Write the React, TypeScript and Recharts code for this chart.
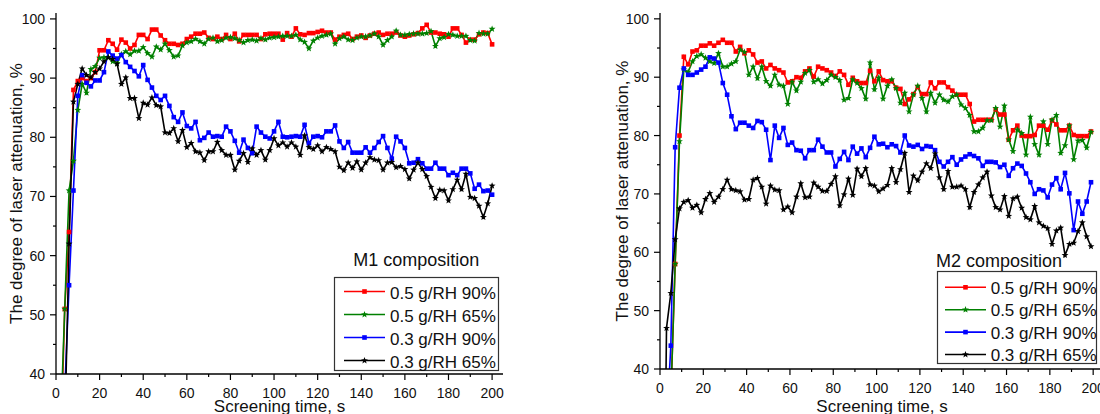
import React from "react"
import { LineChart, Line, XAxis, YAxis, Legend } from "recharts"

const FONT = "'Liberation Sans', Arial, sans-serif"

// M1 panel: readings every 2 s
const timeM1 = [
  2, 4, 6, 8, 10, 12, 14, 16, 18, 20,
  22, 24, 26, 28, 30, 32, 34, 36, 38, 40,
  42, 44, 46, 48, 50, 52, 54, 56, 58, 60,
  62, 64, 66, 68, 70, 72, 74, 76, 78, 80,
  82, 84, 86, 88, 90, 92, 94, 96, 98, 100,
  102, 104, 106, 108, 110, 112, 114, 116, 118, 120,
  122, 124, 126, 128, 130, 132, 134, 136, 138, 140,
  142, 144, 146, 148, 150, 152, 154, 156, 158, 160,
  162, 164, 166, 168, 170, 172, 174, 176, 178, 180,
  182, 184, 186, 188, 190, 192, 194, 196, 198, 200,
]

const m1Red = [
  25, 51, 64, 88, 89.5, 90, 89.5, 90, 91, 94.7,
  94.7, 96.4, 95.8, 94.8, 96.5, 96, 95, 95.6, 97.3, 97.3,
  96.6, 98.2, 98.2, 97.2, 96.4, 95.8, 95.8, 95.6, 95.8, 96.6,
  97, 97.5, 97.5, 97.7, 96.8, 96.6, 97, 96.6, 97.3, 96.6,
  97.5, 96.2, 97.3, 97.3, 97.3, 97.3, 96.6, 97.4, 97.5, 97.5,
  97.5, 96.5, 97.6, 97, 98.4, 97.4, 97.3, 97.6, 97.6, 97.8,
  98, 97.7, 97.7, 96.5, 97, 97.3, 97.5, 96.6, 97, 97.2,
  96.8, 97.2, 97.5, 97.7, 97.3, 97.5, 97.5, 97.7, 97.2, 97,
  97.2, 97.4, 97.6, 98.4, 99, 97.7, 97.7, 97.5, 97.4, 97,
  98.4, 98.4, 97.3, 96, 96.5, 96.5, 97.4, 97.7, 97.6, 95.7,
]

const m1Green = [
  30, 51, 71, 76, 84.6, 89, 87.5, 91.5, 92, 93.4,
  93.5, 93.5, 92.8, 92.5, 94, 94.5, 94, 94.6, 94.6, 95.2,
  94.2, 93.6, 95.3, 94.8, 95.8, 94.7, 93.6, 93.8, 95.5, 96,
  96.2, 96.6, 96.2, 95.8, 96.6, 96.8, 96.2, 96.4, 96.8, 96.9,
  96.7, 96.4, 96, 96.4, 96.5, 96.3, 96.7, 96.5, 96.8, 96.9,
  97, 97.1, 97.1, 97.1, 97.3, 96.5, 96.1, 95, 96.3, 96.8,
  97.1, 97.3, 97.5, 95.8, 96.7, 97, 96.5, 96.4, 96.8, 97,
  97, 97.2, 97.5, 97, 95.6, 96.4, 97, 98, 97.3, 97.3,
  97.4, 97.5, 97.5, 97.5, 97.6, 97.9, 95.4, 96.7, 96.9, 97.4,
  97.3, 97.1, 97.1, 97.1, 96.4, 96.3, 97.6, 97.5, 97.5, 98.3,
]

const m1Blue = [
  15, 37, 55, 71, 87, 90.5, 89.2, 88.6, 89.6, 89.6,
  91, 94.5, 93.8, 93.3, 93.9, 92.7, 91.9, 91.2, 90.3, 92.2,
  89.7, 88.4, 87, 86.3, 87, 85.3, 83.4, 82.6, 84.2, 81.9,
  81.5, 82.6, 79.5, 79.9, 80.8, 80.1, 80.2, 80.1, 81.8, 81,
  79.4, 77.4, 79.6, 78.2, 77.3, 81.8, 80.8, 80.1, 79.8, 81,
  82.6, 80.1, 80, 80.1, 80.2, 80.1, 82.1, 79, 80.1, 80.2,
  80, 81, 81, 82, 79.3, 78.2, 79.2, 77.4, 77.4, 77.4,
  78.3, 77.4, 78.2, 79.2, 80.2, 78.2, 76.4, 80.1, 79.3, 78.2,
  75.6, 75.7, 76.3, 75.6, 74.7, 74.7, 75.7, 74.7, 74.7, 73.6,
  74, 73.6, 74.7, 74.7, 73.9, 71.3, 72, 70.9, 71, 70.3,
]

const m1Black = [
  10, 30, 62, 86, 89, 91.6, 90.5, 90.1, 91, 91.6,
  92.8, 93.5, 93.2, 92.4, 89, 90.1, 86.6, 86.6, 83.2, 85.8,
  85.5, 86.7, 85.4, 85.2, 80.8, 80.7, 81.5, 79.3, 81.2, 78.3,
  79, 77.6, 77.4, 76.1, 77.6, 77.6, 79.2, 77.8, 77, 77,
  74.5, 76, 77.3, 75.8, 78.1, 77, 77.8, 76.2, 77.8, 79.8,
  78.6, 79.1, 78.4, 79.1, 78.4, 77, 80.3, 78.3, 78, 78.6,
  77.6, 78.3, 78, 77.6, 75, 74.4, 75.7, 74.8, 75.9, 74.5,
  75.7, 76.6, 76.2, 76.1, 74.5, 75.7, 75.8, 74.9, 75.1, 74.6,
  73, 74.5, 75.7, 74.6, 73.4, 71.6, 69.7, 71.1, 71, 69.3,
  71.2, 72.8, 71.2, 73.8, 69.9, 69.7, 68.4, 66.5, 68.8, 71.8,
]

// M2 panel: readings every 2 s, odd seconds
const timeM2 = [
  1, 3, 5, 7, 9, 11, 13, 15, 17, 19,
  21, 23, 25, 27, 29, 31, 33, 35, 37, 39,
  41, 43, 45, 47, 49, 51, 53, 55, 57, 59,
  61, 63, 65, 67, 69, 71, 73, 75, 77, 79,
  81, 83, 85, 87, 89, 91, 93, 95, 97, 99,
  101, 103, 105, 107, 109, 111, 113, 115, 117, 119,
  121, 123, 125, 127, 129, 131, 133, 135, 137, 139,
  141, 143, 145, 147, 149, 151, 153, 155, 157, 159,
  161, 163, 165, 167, 169, 171, 173, 175, 177, 179,
  181, 183, 185, 187, 189, 191, 193, 195, 197, 199,
]

const m2Red = [
  5, 20, 35, 58, 80, 93.5, 92.2, 94.4, 94.6, 95.4,
  95.4, 95.8, 95.4, 95.9, 96.4, 95.9, 95.9, 94.4, 95.2, 94.1,
  94.6, 93.9, 92.5, 92.7, 91.5, 92.1, 91.5, 91.2, 90.8, 89.1,
  89.3, 90, 89.9, 91, 91.5, 90.1, 91.8, 91.5, 91.2, 90.8,
  90.2, 91, 90.4, 88.7, 89.9, 89.3, 89, 89, 91.1, 89.3,
  91, 89.5, 89.3, 89.3, 88.2, 88, 85.4, 86.2, 87.1, 88.3,
  87.1, 87.1, 89.1, 88.1, 89.1, 89.1, 88.3, 87.7, 87, 87,
  87, 85.4, 82.4, 82.7, 82.7, 82.7, 82.7, 84.5, 83.6, 83.6,
  79.3, 80.9, 81.7, 80, 79.9, 79.9, 80.1, 81.7, 81.7, 81,
  82.6, 81.9, 80.9, 80.9, 81.7, 80.1, 79.9, 79.9, 79.9, 80.7,
]

const m2Green = [
  -10, 10, 35, 58, 79, 91.3, 90.9, 92.7, 93.6, 93.9,
  93.3, 92.7, 92.4, 94.1, 91.8, 91.8, 92.3, 92.7, 94.7, 94.3,
  90.4, 91.8, 89.8, 91.8, 89.3, 88.5, 90.4, 88.7, 88.5, 85.4,
  89.2, 87.7, 89.2, 90.7, 91.2, 89.2, 89.6, 88.9, 89.5, 90.4,
  90, 89.5, 86.1, 86.4, 89.6, 89, 88.1, 86.3, 92.5, 87.9,
  89.9, 86.3, 88.5, 89.6, 88.1, 85.6, 87.3, 84.1, 87, 88.5,
  86.4, 84.1, 87.3, 85.6, 87, 86.1, 85.8, 86.7, 87, 85.3,
  84.7, 83.5, 80.7, 80.7, 81.3, 82.6, 82.6, 84.7, 81.5, 85.1,
  79.3, 77.3, 81, 80.4, 76.7, 83.2, 78.5, 76.7, 82.4, 78.5,
  82.7, 83.5, 77, 78.3, 81.7, 75.9, 79.1, 79.2, 77.9, 80.6,
]

const m2Blue = [
  10, 30, 44, 78, 88.2, 91.5, 90.4, 90.4, 90.8, 91.3,
  91.8, 93.4, 93.2, 92.5, 89, 87, 83.3, 81.1, 82.2, 82.2,
  81.7, 81.3, 82.5, 82.3, 81, 75.8, 81.7, 79.6, 81.3, 78.4,
  78.8, 77.5, 77.4, 76.1, 77.5, 77.5, 79.3, 78.1, 77.1, 77.1,
  74.7, 76, 77.2, 75.8, 78.1, 76.9, 77.8, 76.3, 77.9, 79.8,
  78.5, 78.6, 78, 78.5, 78.2, 77.1, 80, 78.3, 78.1, 78.4,
  77.7, 78.2, 78.1, 77.5, 75.5, 74.7, 75.5, 76.3, 75, 75.9,
  76.4, 76.8, 76.5, 76.1, 74.8, 75.5, 75.5, 75.4, 74.6, 75,
  73.1, 74.4, 75.2, 74.8, 73.5, 72, 70, 70.8, 70.6, 69.4,
  71.6, 72.7, 70.8, 73.6, 70.1, 63.8, 68.7, 66.6, 68.7, 72,
]

const m2Black = [
  -20, 47, 53, 62.2, 67.5, 68.6, 68.9, 67.6, 68.1, 66.8,
  69.1, 70.1, 68.6, 69.5, 70.8, 72.4, 70.8, 70.6, 70.4, 69,
  69.1, 72.4, 72.7, 71.2, 68.3, 71.4, 70.7, 70.6, 67.3, 67.8,
  66.8, 69.5, 71.8, 69.4, 69.5, 71.9, 71.2, 70.5, 70.5, 71.7,
  73, 68, 69.9, 72.6, 69.8, 74.3, 73, 74.4, 71.6, 71.4,
  70.4, 70.9, 71.5, 74.4, 72, 74.2, 77, 70.3, 73.1, 72.3,
  73.8, 75.2, 74.4, 76.9, 72.8, 70.8, 73.9, 71.2, 71.2, 71.4,
  70.8, 67.7, 70.3, 71.6, 72.8, 73.8, 69.7, 67.7, 67.3, 69.6,
  66.2, 69.2, 69.5, 67.6, 66, 65.6, 67.9, 65.1, 64.5, 64.1,
  61.4, 63.7, 64.2, 59.5, 61.4, 61.6, 63.6, 65.1, 62.7, 61,
]

const seriesNames = ["0.5 g/RH 90%", "0.5 g/RH 65%", "0.3 g/RH 90%", "0.3 g/RH 65%"]
const seriesColors = ["#ff0000", "#008000", "#0000ff", "#000000"]
const seriesMarkers = ["square", "star", "square", "star"]

const xTicks = [0, 10, 20, 30, 40, 50, 60, 70, 80, 90, 100, 110, 120, 130, 140, 150, 160, 170, 180, 190, 200]
const yTicks = [40, 45, 50, 55, 60, 65, 70, 75, 80, 85, 90, 95, 100]

const m1Rows = timeM1.map((t, i) => ({ t, a: m1Red[i], b: m1Green[i], c: m1Blue[i], d: m1Black[i] }))
const m2Rows = timeM2.map((t, i) => ({ t, a: m2Red[i], b: m2Green[i], c: m2Blue[i], d: m2Black[i] }))

function starPoints(cx: number, cy: number, r: number) {
  const pts: string[] = []
  for (let i = 0; i < 10; i++) {
    const rr = i % 2 === 0 ? r : r * 0.42
    const a = -Math.PI / 2 + (i * Math.PI) / 5
    pts.push(`${(cx + rr * Math.cos(a)).toFixed(2)},${(cy + rr * Math.sin(a)).toFixed(2)}`)
  }
  return pts.join(" ")
}

function Marker({ cx, cy, color, kind }: { cx: number; cy: number; color: string; kind: string }) {
  if (kind === "square") {
    return <rect x={cx - 2.3} y={cy - 2.3} width={4.6} height={4.6} fill={color} />
  }
  return <polygon points={starPoints(cx, cy, 3.6)} fill={color} />
}

const makeDot = (color: string, kind: string) => (p: any) => {
  const { cx, cy, index } = p
  if (cx == null || cy == null || isNaN(cy)) return <g key={index} />
  return (
    <g key={index}>
      <Marker cx={cx} cy={cy} color={color} kind={kind} />
    </g>
  )
}

const XTick = (p: any) => {
  const { x, y, payload } = p
  const v = payload.value
  const major = v % 20 === 0
  const ay = y - 8
  return (
    <g>
      <line x1={x} y1={ay} x2={x} y2={ay + (major ? 6 : 3)} stroke="#000" strokeWidth={1.2} />
      {major && (
        <text x={x} y={ay + 24} textAnchor="middle" fontSize={14} fill="#111" fontFamily={FONT}>
          {v}
        </text>
      )}
    </g>
  )
}

const YTick = (p: any) => {
  const { x, y, payload } = p
  const v = payload.value
  const major = v % 10 === 0
  const ax = x + 8
  return (
    <g>
      <line x1={ax} y1={y} x2={ax - (major ? 6 : 3)} y2={y} stroke="#000" strokeWidth={1.2} />
      {major && (
        <text x={ax - 11} y={y + 5} textAnchor="end" fontSize={14} fill="#111" fontFamily={FONT}>
          {v}
        </text>
      )}
    </g>
  )
}

type LegendCfg = {
  left: number; top: number; w: number; h: number
  title: string; titleX: number; titleY: number
  lineX1: number; lineX2: number; textX: number
  rowY0: number; rowStep: number; textDy: number
}

const makeLegend = (cfg: LegendCfg) => (props: any) => {
  const payload = [...(props.payload ?? [])].sort(
    (p: any, q: any) => seriesNames.indexOf(p.value) - seriesNames.indexOf(q.value)
  )
  const mid = (cfg.lineX1 + cfg.lineX2) / 2
  return (
    <svg width={cfg.w} height={cfg.h} style={{ overflow: "visible", display: "block" }}>
      <text x={cfg.titleX} y={cfg.titleY} fontSize={18} fill="#111" fontFamily={FONT}>
        {cfg.title}
      </text>
      <rect x={0.5} y={0.5} width={cfg.w - 1} height={cfg.h - 1} fill="#fff" stroke="#333" strokeWidth={1.2} />
      {payload.map((e: any, i: number) => {
        const y = cfg.rowY0 + i * cfg.rowStep
        return (
          <g key={i}>
            <line x1={cfg.lineX1} y1={y} x2={cfg.lineX2} y2={y} stroke={e.color} strokeWidth={1.6} />
            <Marker cx={mid} cy={y} color={e.color} kind={e.type === "square" ? "square" : "star"} />
            <text x={cfg.textX} y={y + cfg.textDy} fontSize={17} fill="#111" fontFamily={FONT}>
              {e.value}
            </text>
          </g>
        )
      })}
    </svg>
  )
}

type PanelProps = {
  rows: any[]
  left: number
  width: number
  marginRight: number
  yAxisWidth: number
  xAxisHeight: number
  yLabelOffset: number
  legend: LegendCfg
}

function Panel({ rows, left, width, marginRight, yAxisWidth, xAxisHeight, yLabelOffset, legend }: PanelProps) {
  const keys = ["a", "b", "c", "d"]
  return (
    <div style={{ position: "absolute", left, top: 0 }}>
      <LineChart
        width={width}
        height={414}
        data={rows}
        margin={{ top: 13, right: marginRight, bottom: 0, left: 0 }}
        style={{ fontFamily: FONT }}
      >
        <XAxis
          dataKey="t"
          type="number"
          domain={[0, 205]}
          ticks={xTicks}
          interval={0}
          allowDataOverflow
          height={xAxisHeight}
          tickSize={6}
          tickMargin={2}
          tickLine={false}
          tick={<XTick />}
          axisLine={{ stroke: "#000", strokeWidth: 1.3 }}
          label={{ value: "Screening time, s", position: "insideBottom", offset: 2, fontSize: 17, fill: "#111", fontFamily: FONT }}
        />
        <XAxis
          xAxisId="top"
          orientation="top"
          dataKey="t"
          type="number"
          domain={[0, 205]}
          height={0}
          tick={false}
          tickLine={false}
          axisLine={{ stroke: "#000", strokeWidth: 1.3 }}
        />
        <YAxis
          type="number"
          domain={[40, 101]}
          ticks={yTicks}
          interval={0}
          allowDataOverflow
          width={yAxisWidth}
          tickSize={6}
          tickMargin={2}
          tickLine={false}
          tick={<YTick />}
          axisLine={{ stroke: "#000", strokeWidth: 1.3 }}
          label={{
            value: "The degree of laser attenuation, %",
            angle: -90,
            position: "insideLeft",
            offset: yLabelOffset,
            fontSize: 17,
            fill: "#111",
            fontFamily: FONT,
            style: { textAnchor: "middle" },
          }}
        />
        <YAxis
          yAxisId="right"
          orientation="right"
          type="number"
          domain={[40, 101]}
          width={0}
          tick={false}
          tickLine={false}
          axisLine={{ stroke: "#000", strokeWidth: 1.3 }}
        />
        <Legend
          layout="vertical"
          align="center"
          verticalAlign="middle"
          wrapperStyle={{ left: legend.left, top: legend.top, width: legend.w, height: legend.h }}
          content={makeLegend(legend)}
        />
        {keys.map((k, i) => (
          <Line
            key={k}
            dataKey={k}
            name={seriesNames[i]}
            type="linear"
            stroke={seriesColors[i]}
            strokeWidth={1.6}
            dot={makeDot(seriesColors[i], seriesMarkers[i])}
            activeDot={false}
            legendType={seriesMarkers[i] as any}
            isAnimationActive={false}
            connectNulls
          />
        ))}
      </LineChart>
    </div>
  )
}

export default function App() {
  return (
    <div
      style={{
        position: "absolute",
        left: 0,
        top: 0,
        width: 1100,
        height: 414,
        overflow: "hidden",
        background: "#fff",
      }}
    >
      <Panel
        rows={m1Rows}
        left={0}
        width={540}
        marginRight={37}
        yAxisWidth={56}
        xAxisHeight={40}
        yLabelOffset={16}
        legend={{
          left: 334, top: 277, w: 165, h: 94,
          title: "M1 composition", titleX: 19.3, titleY: -11,
          lineX1: 10, lineX2: 51, textX: 56,
          rowY0: 14.5, rowStep: 23, textDy: 7.8,
        }}
      />
      <Panel
        rows={m2Rows}
        left={600}
        width={510}
        marginRight={6}
        yAxisWidth={60}
        xAxisHeight={45}
        yLabelOffset={22}
        legend={{
          left: 337, top: 271, w: 160, h: 93,
          title: "M2 composition", titleX: -1, titleY: -4.3,
          lineX1: 8, lineX2: 49, textX: 53.7,
          rowY0: 16.3, rowStep: 22.4, textDy: 6.7,
        }}
      />
    </div>
  )
}
